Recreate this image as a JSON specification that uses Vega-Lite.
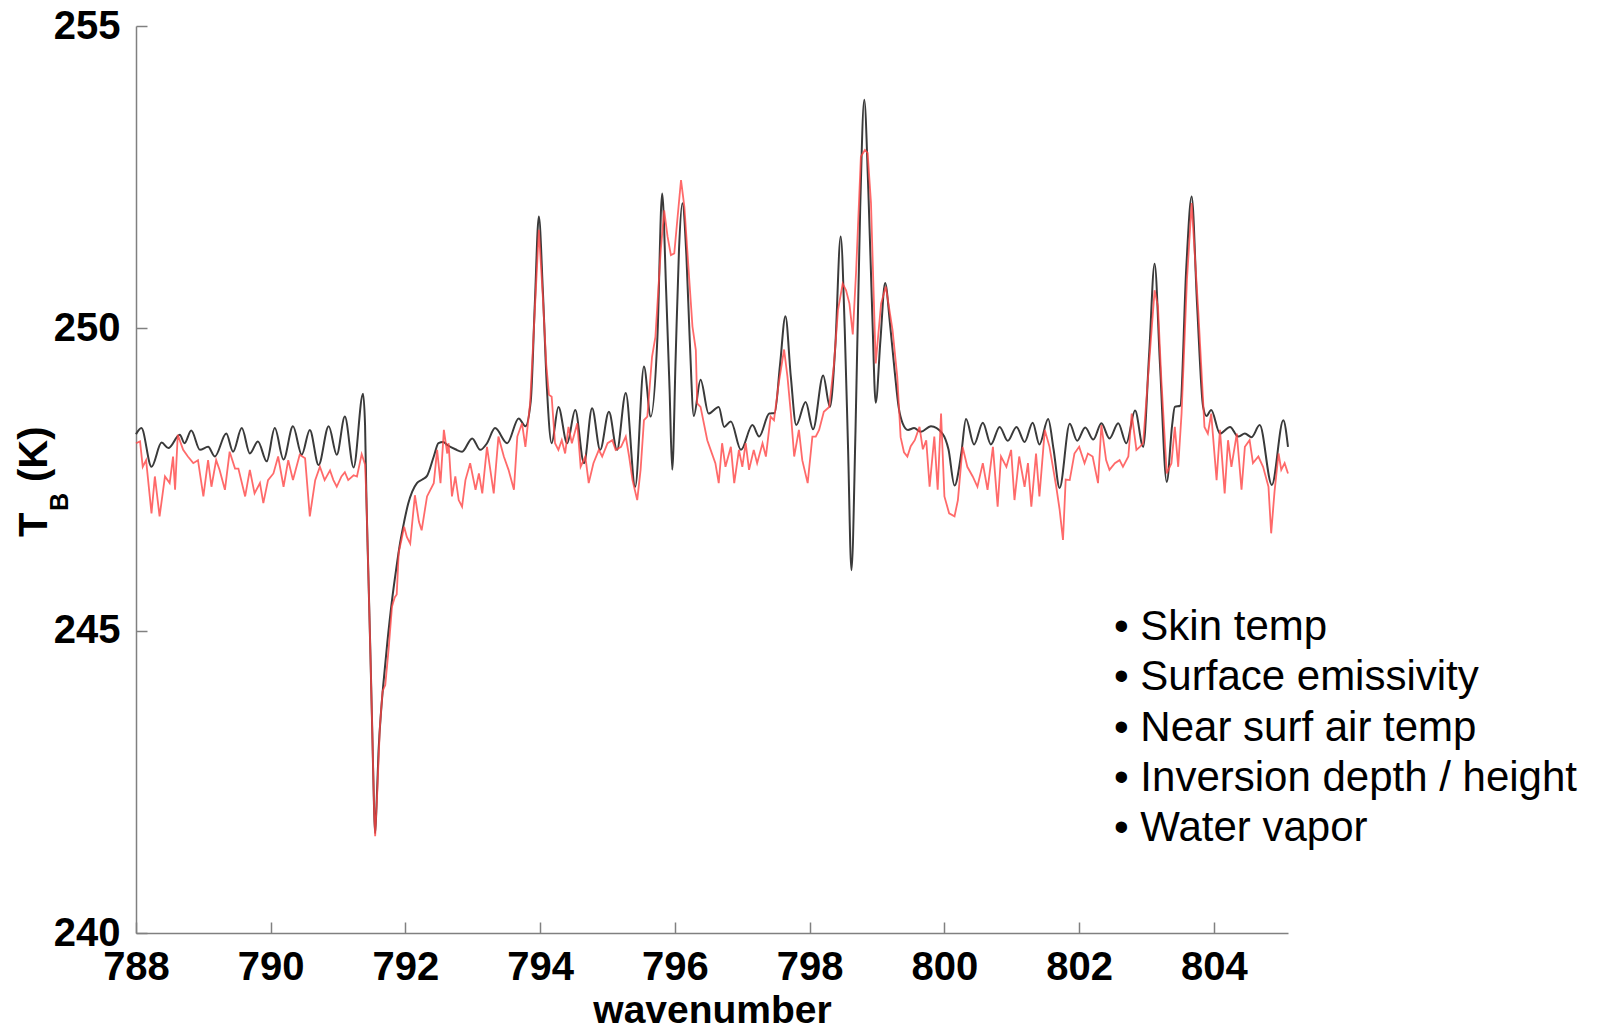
{
  "$schema": "https://vega.github.io/schema/vega-lite/v6.json",
  "autosize": {"type": "none"},
  "padding": {"left": 136, "top": 26, "right": 319, "bottom": 98},
  "width": 1152,
  "height": 907,
  "background": "white",
  "config": {
    "view": {"stroke": null},
    "axis": {
      "domainColor": "#808080", "domainWidth": 1.5,
      "tickColor": "#808080", "tickWidth": 1.5, "tickSize": -11,
      "grid": false,
      "labelFont": "Liberation Sans", "labelFontWeight": "bold", "labelFontSize": 40, "labelColor": "#000000",
      "titleFont": "Liberation Sans", "titleFontWeight": "bold", "titleFontSize": 39, "titleColor": "#000000",
      "labelFlush": false, "labelOverlap": false
    }
  },
  "datasets": {
    "black": [
      {"wn":788.00,"tb":248.25},{"wn":788.08,"tb":248.35},{"wn":788.23,"tb":247.71},{"wn":788.38,"tb":248.11},{"wn":788.48,"tb":248.02},{"wn":788.65,"tb":248.24},{"wn":788.72,"tb":248.10},{"wn":788.82,"tb":248.31},{"wn":788.95,"tb":247.99},{"wn":789.07,"tb":248.04},{"wn":789.17,"tb":247.88},{"wn":789.34,"tb":248.26},{"wn":789.44,"tb":247.96},{"wn":789.57,"tb":248.35},{"wn":789.69,"tb":247.93},{"wn":789.81,"tb":248.13},{"wn":789.94,"tb":247.80},{"wn":790.06,"tb":248.35},{"wn":790.19,"tb":247.83},{"wn":790.33,"tb":248.38},{"wn":790.46,"tb":247.91},{"wn":790.58,"tb":248.32},{"wn":790.71,"tb":247.74},{"wn":790.86,"tb":248.38},{"wn":790.98,"tb":247.91},{"wn":791.10,"tb":248.54},{"wn":791.23,"tb":247.70},{"wn":791.37,"tb":248.92},{"wn":791.40,"tb":248.4},{"wn":791.42,"tb":247.2},{"wn":791.45,"tb":245.9},{"wn":791.48,"tb":244.6},{"wn":791.51,"tb":243.2},{"wn":791.535,"tb":242.0},{"wn":791.55,"tb":241.65},{"wn":791.57,"tb":242.1},{"wn":791.60,"tb":243.0},{"wn":791.64,"tb":243.7},{"wn":791.67,"tb":244.1},{"wn":791.73,"tb":244.8},{"wn":791.80,"tb":245.5},{"wn":791.86,"tb":246.0},{"wn":791.92,"tb":246.45},{"wn":791.98,"tb":246.8},{"wn":792.04,"tb":247.1},{"wn":792.10,"tb":247.3},{"wn":792.17,"tb":247.44},{"wn":792.25,"tb":247.5},{"wn":792.32,"tb":247.56},{"wn":792.42,"tb":247.88},{"wn":792.49,"tb":248.10},{"wn":792.56,"tb":248.12},{"wn":792.62,"tb":248.07},{"wn":792.74,"tb":248.00},{"wn":792.84,"tb":247.96},{"wn":792.99,"tb":248.18},{"wn":793.11,"tb":247.99},{"wn":793.21,"tb":248.10},{"wn":793.33,"tb":248.35},{"wn":793.51,"tb":248.10},{"wn":793.68,"tb":248.51},{"wn":793.78,"tb":248.38},{"wn":793.86,"tb":248.8},{"wn":793.92,"tb":250.4},{"wn":793.98,"tb":251.85},{"wn":794.04,"tb":250.6},{"wn":794.10,"tb":249.0},{"wn":794.17,"tb":248.10},{"wn":794.27,"tb":248.70},{"wn":794.40,"tb":248.10},{"wn":794.52,"tb":248.65},{"wn":794.65,"tb":247.77},{"wn":794.77,"tb":248.68},{"wn":794.89,"tb":247.99},{"wn":795.02,"tb":248.62},{"wn":795.14,"tb":247.99},{"wn":795.27,"tb":248.93},{"wn":795.41,"tb":247.38},{"wn":795.54,"tb":249.37},{"wn":795.64,"tb":248.54},{"wn":795.74,"tb":249.86},{"wn":795.81,"tb":252.23},{"wn":795.87,"tb":250.6},{"wn":795.92,"tb":249.0},{"wn":795.96,"tb":247.66},{"wn":796.01,"tb":249.5},{"wn":796.06,"tb":251.3},{"wn":796.11,"tb":252.07},{"wn":796.17,"tb":251.2},{"wn":796.22,"tb":249.8},{"wn":796.28,"tb":248.55},{"wn":796.38,"tb":249.15},{"wn":796.50,"tb":248.59},{"wn":796.65,"tb":248.70},{"wn":796.73,"tb":248.37},{"wn":796.83,"tb":248.46},{"wn":796.98,"tb":247.99},{"wn":797.15,"tb":248.40},{"wn":797.25,"tb":248.21},{"wn":797.40,"tb":248.59},{"wn":797.48,"tb":248.6},{"wn":797.56,"tb":249.4},{"wn":797.64,"tb":250.20},{"wn":797.72,"tb":249.2},{"wn":797.80,"tb":248.40},{"wn":797.94,"tb":248.78},{"wn":798.05,"tb":248.33},{"wn":798.20,"tb":249.22},{"wn":798.30,"tb":248.70},{"wn":798.38,"tb":249.7},{"wn":798.46,"tb":251.52},{"wn":798.52,"tb":250.0},{"wn":798.57,"tb":248.0},{"wn":798.62,"tb":246.0},{"wn":798.68,"tb":248.3},{"wn":798.75,"tb":252.0},{"wn":798.81,"tb":253.78},{"wn":798.87,"tb":252.3},{"wn":798.93,"tb":250.2},{"wn":798.98,"tb":248.77},{"wn":799.05,"tb":249.8},{"wn":799.12,"tb":250.75},{"wn":799.19,"tb":250.1},{"wn":799.26,"tb":249.31},{"wn":799.32,"tb":248.7},{"wn":799.38,"tb":248.43},{"wn":799.46,"tb":248.32},{"wn":799.55,"tb":248.35},{"wn":799.65,"tb":248.29},{"wn":799.80,"tb":248.38},{"wn":799.97,"tb":248.26},{"wn":800.06,"tb":248.0},{"wn":800.15,"tb":247.40},{"wn":800.25,"tb":247.93},{"wn":800.32,"tb":248.50},{"wn":800.44,"tb":248.08},{"wn":800.57,"tb":248.44},{"wn":800.69,"tb":248.08},{"wn":800.82,"tb":248.37},{"wn":800.94,"tb":248.14},{"wn":801.07,"tb":248.37},{"wn":801.19,"tb":248.12},{"wn":801.31,"tb":248.44},{"wn":801.41,"tb":248.08},{"wn":801.54,"tb":248.50},{"wn":801.62,"tb":248.0},{"wn":801.71,"tb":247.36},{"wn":801.86,"tb":248.42},{"wn":801.97,"tb":248.14},{"wn":802.09,"tb":248.36},{"wn":802.21,"tb":248.16},{"wn":802.33,"tb":248.43},{"wn":802.45,"tb":248.18},{"wn":802.58,"tb":248.43},{"wn":802.70,"tb":248.10},{"wn":802.83,"tb":248.64},{"wn":802.95,"tb":248.04},{"wn":803.04,"tb":249.6},{"wn":803.12,"tb":251.07},{"wn":803.20,"tb":249.4},{"wn":803.30,"tb":247.46},{"wn":803.38,"tb":248.4},{"wn":803.42,"tb":248.70},{"wn":803.50,"tb":248.72},{"wn":803.59,"tb":251.0},{"wn":803.67,"tb":252.18},{"wn":803.75,"tb":250.4},{"wn":803.84,"tb":248.7},{"wn":803.89,"tb":248.55},{"wn":803.96,"tb":248.65},{"wn":804.09,"tb":248.26},{"wn":804.24,"tb":248.37},{"wn":804.36,"tb":248.21},{"wn":804.46,"tb":248.26},{"wn":804.56,"tb":248.20},{"wn":804.68,"tb":248.40},{"wn":804.86,"tb":247.41},{"wn":805.03,"tb":248.48},{"wn":805.10,"tb":248.04}
    ],
    "red": [
      {"wn":788.00,"tb":248.10},{"wn":788.06,"tb":248.13},{"wn":788.10,"tb":247.71},{"wn":788.15,"tb":247.82},{"wn":788.23,"tb":246.94},{"wn":788.28,"tb":247.55},{"wn":788.35,"tb":246.89},{"wn":788.43,"tb":247.55},{"wn":788.50,"tb":247.44},{"wn":788.55,"tb":247.88},{"wn":788.58,"tb":247.33},{"wn":788.62,"tb":248.24},{"wn":788.70,"tb":247.99},{"wn":788.77,"tb":247.88},{"wn":788.85,"tb":247.77},{"wn":788.92,"tb":247.82},{"wn":789.00,"tb":247.22},{"wn":789.07,"tb":247.82},{"wn":789.12,"tb":247.38},{"wn":789.19,"tb":247.82},{"wn":789.24,"tb":247.66},{"wn":789.32,"tb":247.33},{"wn":789.39,"tb":247.96},{"wn":789.47,"tb":247.68},{"wn":789.52,"tb":247.68},{"wn":789.62,"tb":247.22},{"wn":789.69,"tb":247.66},{"wn":789.76,"tb":247.27},{"wn":789.84,"tb":247.44},{"wn":789.89,"tb":247.11},{"wn":789.96,"tb":247.49},{"wn":790.04,"tb":247.60},{"wn":790.11,"tb":247.88},{"wn":790.19,"tb":247.38},{"wn":790.26,"tb":247.82},{"wn":790.33,"tb":247.49},{"wn":790.43,"tb":247.91},{"wn":790.51,"tb":247.85},{"wn":790.58,"tb":246.89},{"wn":790.66,"tb":247.49},{"wn":790.73,"tb":247.71},{"wn":790.80,"tb":247.49},{"wn":790.88,"tb":247.65},{"wn":790.93,"tb":247.49},{"wn":790.98,"tb":247.38},{"wn":791.05,"tb":247.55},{"wn":791.10,"tb":247.62},{"wn":791.15,"tb":247.49},{"wn":791.23,"tb":247.57},{"wn":791.28,"tb":247.55},{"wn":791.35,"tb":247.92},{"wn":791.40,"tb":247.75},{"wn":791.42,"tb":247.2},{"wn":791.45,"tb":245.9},{"wn":791.48,"tb":244.6},{"wn":791.51,"tb":243.2},{"wn":791.535,"tb":242.0},{"wn":791.55,"tb":241.6},{"wn":791.58,"tb":242.3},{"wn":791.62,"tb":243.4},{"wn":791.66,"tb":244.0},{"wn":791.70,"tb":244.1},{"wn":791.75,"tb":244.7},{"wn":791.80,"tb":245.4},{"wn":791.84,"tb":245.55},{"wn":791.87,"tb":245.6},{"wn":791.90,"tb":246.3},{"wn":791.94,"tb":246.5},{"wn":791.98,"tb":246.72},{"wn":792.02,"tb":246.55},{"wn":792.07,"tb":246.44},{"wn":792.14,"tb":247.24},{"wn":792.20,"tb":246.8},{"wn":792.24,"tb":246.66},{"wn":792.32,"tb":247.22},{"wn":792.42,"tb":247.44},{"wn":792.47,"tb":247.99},{"wn":792.52,"tb":247.44},{"wn":792.57,"tb":248.32},{"wn":792.62,"tb":247.93},{"wn":792.64,"tb":248.10},{"wn":792.69,"tb":247.22},{"wn":792.74,"tb":247.55},{"wn":792.79,"tb":247.16},{"wn":792.84,"tb":247.05},{"wn":792.89,"tb":247.49},{"wn":792.96,"tb":247.77},{"wn":793.04,"tb":247.33},{"wn":793.09,"tb":247.60},{"wn":793.14,"tb":247.27},{"wn":793.21,"tb":248.04},{"wn":793.31,"tb":247.27},{"wn":793.38,"tb":248.21},{"wn":793.46,"tb":247.88},{"wn":793.53,"tb":247.66},{"wn":793.61,"tb":247.33},{"wn":793.66,"tb":248.21},{"wn":793.73,"tb":248.43},{"wn":793.78,"tb":248.04},{"wn":793.85,"tb":248.76},{"wn":793.92,"tb":250.3},{"wn":793.98,"tb":251.63},{"wn":794.04,"tb":250.5},{"wn":794.09,"tb":249.4},{"wn":794.13,"tb":248.90},{"wn":794.17,"tb":248.87},{"wn":794.22,"tb":248.10},{"wn":794.27,"tb":247.99},{"wn":794.32,"tb":248.15},{"wn":794.37,"tb":247.93},{"wn":794.42,"tb":248.37},{"wn":794.47,"tb":248.10},{"wn":794.55,"tb":248.43},{"wn":794.60,"tb":247.71},{"wn":794.67,"tb":247.88},{"wn":794.72,"tb":247.44},{"wn":794.79,"tb":247.77},{"wn":794.87,"tb":247.99},{"wn":794.92,"tb":247.88},{"wn":795.00,"tb":248.10},{"wn":795.07,"tb":248.15},{"wn":795.12,"tb":247.99},{"wn":795.20,"tb":248.04},{"wn":795.27,"tb":248.21},{"wn":795.32,"tb":247.88},{"wn":795.37,"tb":247.49},{"wn":795.44,"tb":247.16},{"wn":795.49,"tb":247.66},{"wn":795.54,"tb":248.48},{"wn":795.59,"tb":248.54},{"wn":795.66,"tb":249.53},{"wn":795.71,"tb":249.86},{"wn":795.79,"tb":251.30},{"wn":795.84,"tb":251.95},{"wn":795.89,"tb":251.52},{"wn":795.94,"tb":251.21},{"wn":795.99,"tb":251.24},{"wn":796.04,"tb":251.85},{"wn":796.09,"tb":252.45},{"wn":796.14,"tb":252.01},{"wn":796.21,"tb":250.85},{"wn":796.26,"tb":250.03},{"wn":796.31,"tb":249.64},{"wn":796.33,"tb":248.76},{"wn":796.38,"tb":248.70},{"wn":796.48,"tb":248.15},{"wn":796.53,"tb":247.99},{"wn":796.60,"tb":247.77},{"wn":796.65,"tb":247.44},{"wn":796.70,"tb":248.10},{"wn":796.75,"tb":247.71},{"wn":796.83,"tb":248.04},{"wn":796.88,"tb":247.44},{"wn":796.95,"tb":247.99},{"wn":797.00,"tb":247.71},{"wn":797.05,"tb":248.10},{"wn":797.10,"tb":247.66},{"wn":797.17,"tb":247.99},{"wn":797.22,"tb":247.77},{"wn":797.30,"tb":248.10},{"wn":797.35,"tb":247.88},{"wn":797.42,"tb":248.54},{"wn":797.47,"tb":248.48},{"wn":797.54,"tb":249.09},{"wn":797.62,"tb":249.65},{"wn":797.67,"tb":249.20},{"wn":797.72,"tb":248.60},{"wn":797.77,"tb":247.88},{"wn":797.84,"tb":248.32},{"wn":797.89,"tb":247.82},{"wn":797.97,"tb":247.44},{"wn":798.04,"tb":248.21},{"wn":798.09,"tb":248.21},{"wn":798.14,"tb":248.32},{"wn":798.21,"tb":248.62},{"wn":798.29,"tb":248.70},{"wn":798.36,"tb":249.40},{"wn":798.42,"tb":250.3},{"wn":798.49,"tb":250.74},{"wn":798.54,"tb":250.63},{"wn":798.59,"tb":250.41},{"wn":798.64,"tb":249.90},{"wn":798.69,"tb":250.96},{"wn":798.76,"tb":252.84},{"wn":798.82,"tb":252.95},{"wn":798.86,"tb":252.90},{"wn":798.91,"tb":252.07},{"wn":798.98,"tb":249.42},{"wn":799.06,"tb":250.41},{"wn":799.13,"tb":250.69},{"wn":799.23,"tb":249.97},{"wn":799.30,"tb":249.20},{"wn":799.35,"tb":248.2},{"wn":799.40,"tb":247.95},{"wn":799.45,"tb":247.88},{"wn":799.50,"tb":248.05},{"wn":799.56,"tb":248.15},{"wn":799.63,"tb":248.37},{"wn":799.68,"tb":248.0},{"wn":799.73,"tb":248.15},{"wn":799.78,"tb":247.38},{"wn":799.85,"tb":248.21},{"wn":799.90,"tb":247.33},{"wn":799.95,"tb":248.59},{"wn":800.00,"tb":247.22},{"wn":800.07,"tb":246.94},{"wn":800.15,"tb":246.89},{"wn":800.20,"tb":247.16},{"wn":800.27,"tb":248.04},{"wn":800.34,"tb":247.71},{"wn":800.42,"tb":247.55},{"wn":800.49,"tb":247.38},{"wn":800.57,"tb":247.77},{"wn":800.64,"tb":247.33},{"wn":800.72,"tb":248.04},{"wn":800.79,"tb":247.05},{"wn":800.84,"tb":247.88},{"wn":800.92,"tb":247.71},{"wn":800.99,"tb":247.99},{"wn":801.04,"tb":247.16},{"wn":801.11,"tb":247.88},{"wn":801.19,"tb":247.38},{"wn":801.24,"tb":247.77},{"wn":801.29,"tb":247.05},{"wn":801.36,"tb":247.93},{"wn":801.41,"tb":247.22},{"wn":801.49,"tb":248.32},{"wn":801.56,"tb":248.04},{"wn":801.66,"tb":247.38},{"wn":801.71,"tb":247.0},{"wn":801.76,"tb":246.50},{"wn":801.80,"tb":247.5},{"wn":801.86,"tb":247.49},{"wn":801.93,"tb":247.93},{"wn":802.00,"tb":248.04},{"wn":802.08,"tb":247.77},{"wn":802.13,"tb":247.93},{"wn":802.20,"tb":247.88},{"wn":802.28,"tb":247.44},{"wn":802.33,"tb":248.40},{"wn":802.40,"tb":247.82},{"wn":802.45,"tb":247.66},{"wn":802.53,"tb":247.77},{"wn":802.60,"tb":247.82},{"wn":802.65,"tb":247.71},{"wn":802.73,"tb":247.88},{"wn":802.78,"tb":248.59},{"wn":802.85,"tb":247.99},{"wn":802.90,"tb":248.04},{"wn":802.95,"tb":248.10},{"wn":803.02,"tb":249.15},{"wn":803.12,"tb":250.63},{"wn":803.17,"tb":250.36},{"wn":803.22,"tb":249.15},{"wn":803.30,"tb":247.60},{"wn":803.37,"tb":247.77},{"wn":803.42,"tb":248.37},{"wn":803.47,"tb":247.71},{"wn":803.52,"tb":248.59},{"wn":803.60,"tb":250.8},{"wn":803.67,"tb":252.07},{"wn":803.77,"tb":250.25},{"wn":803.86,"tb":248.37},{"wn":803.91,"tb":248.26},{"wn":803.96,"tb":248.59},{"wn":804.04,"tb":247.49},{"wn":804.09,"tb":248.32},{"wn":804.16,"tb":247.27},{"wn":804.21,"tb":248.15},{"wn":804.26,"tb":247.71},{"wn":804.34,"tb":248.26},{"wn":804.41,"tb":247.33},{"wn":804.46,"tb":248.04},{"wn":804.53,"tb":248.15},{"wn":804.58,"tb":247.77},{"wn":804.66,"tb":247.88},{"wn":804.73,"tb":247.71},{"wn":804.81,"tb":247.38},{"wn":804.85,"tb":246.61},{"wn":804.90,"tb":247.3},{"wn":804.96,"tb":247.93},{"wn":805.00,"tb":247.66},{"wn":805.05,"tb":247.77},{"wn":805.10,"tb":247.60}
    ]
  },
  "layer": [
    {
      "data": {"name": "black"},
      "mark": {"type": "line", "color": "#3a3a3a", "strokeWidth": 2, "interpolate": "monotone"},
      "encoding": {
        "x": {
          "field": "wn", "type": "quantitative",
          "scale": {"domain": [788, 805.1], "nice": false, "zero": false},
          "axis": {
            "values": [788, 790, 792, 794, 796, 798, 800, 802, 804],
            "format": "d",
            "labelPadding": 25,
            "title": "wavenumber",
            "titleBaseline": "alphabetic",
            "titleAlign": "center",
            "titleY": 89.5,
            "titleX": 576
          }
        },
        "y": {
          "field": "tb", "type": "quantitative",
          "scale": {"domain": [240, 255], "nice": false, "zero": false},
          "axis": {
            "values": [240, 245, 250, 255],
            "format": "d",
            "labelPadding": 27,
            "title": null
          }
        }
      }
    },
    {
      "data": {"name": "red"},
      "mark": {"type": "line", "color": "#ff4545", "strokeWidth": 1.8, "opacity": 0.8, "interpolate": "linear"},
      "encoding": {
        "x": {"field": "wn", "type": "quantitative"},
        "y": {"field": "tb", "type": "quantitative"}
      }
    },
    {
      "data": {"values": [{}]},
      "mark": {"type": "text", "text": "T", "font": "Liberation Sans", "fontWeight": "bold", "fontSize": 40, "angle": 270, "align": "left", "baseline": "alphabetic", "xOffset": -89, "color": "#000000"},
      "encoding": {"x": {"datum": 788}, "y": {"datum": 246.549}}
    },
    {
      "data": {"values": [{}]},
      "mark": {"type": "text", "text": "B", "font": "Liberation Sans", "fontWeight": "bold", "fontSize": 25, "angle": 270, "align": "left", "baseline": "alphabetic", "xOffset": -68, "color": "#000000"},
      "encoding": {"x": {"datum": 788}, "y": {"datum": 246.979}}
    },
    {
      "data": {"values": [{}]},
      "mark": {"type": "text", "text": "(K)", "font": "Liberation Sans", "fontWeight": "bold", "fontSize": 40, "angle": 270, "align": "left", "baseline": "alphabetic", "xOffset": -89, "color": "#000000"},
      "encoding": {"x": {"datum": 788}, "y": {"datum": 247.459}}
    },
    {
      "data": {"values": [{}]},
      "mark": {"type": "text", "text": ["• Skin temp", "• Surface emissivity", "• Near surf air temp", "• Inversion depth / height", "• Water vapor"], "font": "Liberation Sans", "fontSize": 42, "align": "left", "baseline": "alphabetic", "lineHeight": 50.3, "color": "#000000"},
      "encoding": {"x": {"datum": 802.517}, "y": {"datum": 244.846}}
    }
  ]
}
